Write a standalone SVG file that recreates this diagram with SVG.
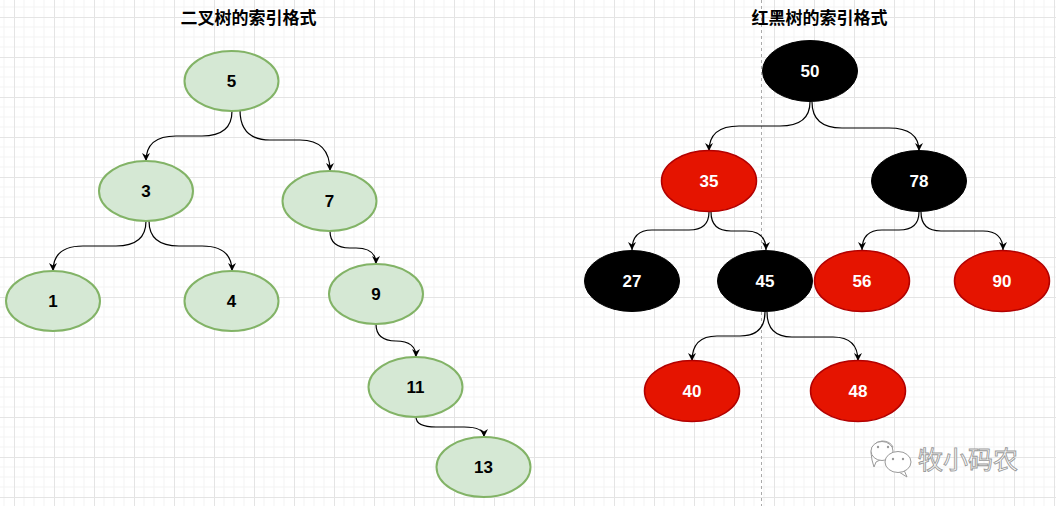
<svg xmlns="http://www.w3.org/2000/svg" width="1056" height="506" viewBox="0 0 1056 506">
<defs>
<pattern id="grid" patternUnits="userSpaceOnUse" x="14" y="17" width="40" height="40">
<path d="M10 0V40M20 0V40M30 0V40M0 10H40M0 20H40M0 30H40" stroke="#f3f3f3" stroke-width="1" fill="none"/>
<path d="M0.5 0V40M0 0.5H40" stroke="#e4e4e4" stroke-width="1" fill="none"/>
</pattern>
<marker id="arr" viewBox="0 0 10 10" markerUnits="userSpaceOnUse" markerWidth="8" markerHeight="8" refX="10" refY="5" orient="auto">
<path d="M0 0L10 5L0 10L3 5Z" fill="#000"/>
</marker>
</defs>
<style>
.g ellipse{fill:#d5e8d4;stroke:#82b366;stroke-width:2}
.r ellipse{fill:#e51400;stroke:#b20000;stroke-width:1.5}
.b ellipse{fill:#000;stroke:#000;stroke-width:1}
.node text{font-family:"Liberation Sans",Arial,sans-serif;font-weight:bold;font-size:17px;text-anchor:middle;dominant-baseline:central}
.g text{fill:#000}
.r text,.b text{fill:#fff}
.title{font-family:"Liberation Sans","Noto Sans CJK SC",sans-serif;font-weight:bold;font-size:17px;text-anchor:middle;fill:#000}
#edges path{fill:none;stroke:#000;stroke-width:1.2;marker-end:url(#arr)}
</style>
<rect width="1056" height="506" fill="#fff"/>
<rect width="1056" height="506" fill="url(#grid)"/>
<line x1="761.5" y1="0" x2="761.5" y2="506" stroke="#aaa" stroke-width="1" stroke-dasharray="3 3"/>
<text class="title" x="248.5" y="24">二叉树的索引格式</text>
<text class="title" x="819.5" y="24">红黑树的索引格式</text>
<g id="edges">
<path d="M232 111Q232 136 202 136L176 136Q146 136 146 161"/>
<path d="M240 110Q240 140 270 140L300 140Q330 140 330 171"/>
<path d="M146 221Q146 246 116 246L83 246Q53 246 53 271"/>
<path d="M149 221Q149 246 179 246L202 246Q232 246 232 271"/>
<path d="M330 231Q330 248 350 248L356 248Q376 248 376 264"/>
<path d="M376 324Q376 341 396 341L396 341Q416 341 416 357"/>
<path d="M416 417Q416 427 436 427L464 427Q484 427 484 437"/>
<path d="M810 102Q810 126 780 126L739 126Q709 126 709 151"/>
<path d="M812 102Q812 128 842 128L889 128Q919 128 919 151"/>
<path d="M709 212Q709 230 689 230L652 230Q632 230 632 250"/>
<path d="M711 212Q711 231 731 231L746 231Q766 231 766 250"/>
<path d="M919 212Q919 230 899 230L882 230Q862 230 862 250"/>
<path d="M921 212Q921 231 941 231L983 231Q1003 231 1003 250"/>
<path d="M765 312Q765 336 740 336L717 336Q692 336 692 361"/>
<path d="M767 312Q767 337 792 337L833 337Q858 337 858 361"/>
</g>
<g id="n5" class="node g"><ellipse cx="231.5" cy="81" rx="47" ry="30"/><text x="231.5" y="81">5</text></g>
<g id="n3" class="node g"><ellipse cx="146" cy="191" rx="47" ry="30"/><text x="146" y="191">3</text></g>
<g id="n7" class="node g"><ellipse cx="329.5" cy="201" rx="47" ry="30"/><text x="329.5" y="201">7</text></g>
<g id="n1" class="node g"><ellipse cx="53" cy="301" rx="47" ry="30"/><text x="53" y="301">1</text></g>
<g id="n4" class="node g"><ellipse cx="231.5" cy="301" rx="47" ry="30"/><text x="231.5" y="301">4</text></g>
<g id="n9" class="node g"><ellipse cx="376" cy="294" rx="47" ry="30"/><text x="376" y="294">9</text></g>
<g id="n11" class="node g"><ellipse cx="415.5" cy="387" rx="47" ry="30"/><text x="415.5" y="387">11</text></g>
<g id="n13" class="node g"><ellipse cx="483.5" cy="467" rx="47" ry="30"/><text x="483.5" y="467">13</text></g>
<g id="n50" class="node b"><ellipse cx="810" cy="71" rx="47.5" ry="30.5"/><text x="810" y="71">50</text></g>
<g id="n35" class="node r"><ellipse cx="709" cy="181" rx="47.5" ry="30.5"/><text x="709" y="181">35</text></g>
<g id="n78" class="node b"><ellipse cx="919" cy="181" rx="47.5" ry="30.5"/><text x="919" y="181">78</text></g>
<g id="n27" class="node b"><ellipse cx="632" cy="281" rx="47.5" ry="30.5"/><text x="632" y="281">27</text></g>
<g id="n45" class="node b"><ellipse cx="765" cy="281" rx="47.5" ry="30.5"/><text x="765" y="281">45</text></g>
<g id="n56" class="node r"><ellipse cx="862" cy="281" rx="47.5" ry="30.5"/><text x="862" y="281">56</text></g>
<g id="n90" class="node r"><ellipse cx="1002" cy="281" rx="47.5" ry="30.5"/><text x="1002" y="281">90</text></g>
<g id="n40" class="node r"><ellipse cx="692" cy="391" rx="47.5" ry="30.5"/><text x="692" y="391">40</text></g>
<g id="n48" class="node r"><ellipse cx="858" cy="391" rx="47.5" ry="30.5"/><text x="858" y="391">48</text></g>
<g id="watermark" fill="#fff" stroke="#9a9a9a" stroke-width="1">
<path d="M872 460Q870 452 872 447Q876 441 882 441Q890 441 893 447L884 458L876 462L874 467Z"/>
<ellipse cx="882" cy="451" rx="11" ry="9.5"/>
<path d="M904 470L907 477L899 472Z"/>
<ellipse cx="898" cy="462" rx="13" ry="10.5"/>
<g fill="#9a9a9a" stroke="none"><circle cx="878" cy="447" r="1.2"/><circle cx="888" cy="447" r="1.2"/><circle cx="893" cy="459" r="1.2"/><circle cx="903" cy="459" r="1.2"/></g>
<text x="918" y="469" font-family="'Noto Sans CJK SC',sans-serif" font-size="25" stroke-width="0.9">牧小码农</text>
</g>
</svg>
